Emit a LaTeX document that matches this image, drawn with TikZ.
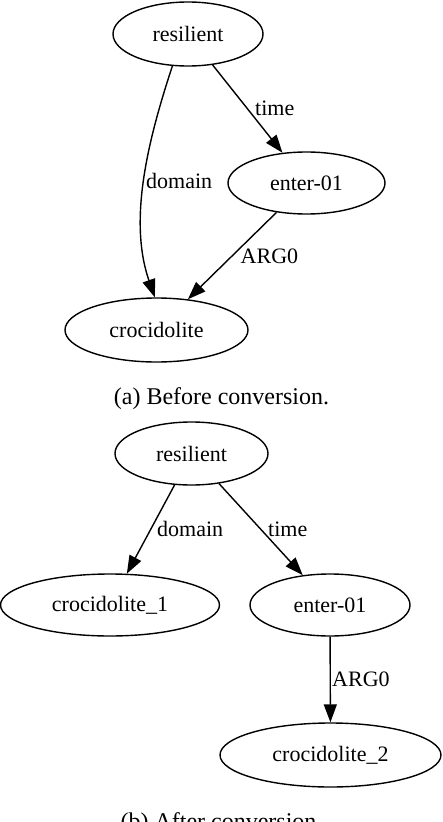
\documentclass[tikz,border=0pt]{standalone}
\usepackage{fontspec}
\setmainfont{Liberation Serif}
\usetikzlibrary{shapes.geometric,arrows.meta}
\tikzset{
  amr/.style={draw, ellipse, line width=1.4pt, inner sep=0pt, font=\fontsize{22}{26}\selectfont},
  lbl/.style={inner sep=0pt, anchor=base west, font=\fontsize{22}{26}\selectfont},
  captext/.style={inner sep=0pt, anchor=base, font=\fontsize{24}{28}\selectfont},
  amredge/.style={line width=1.4pt, -{Triangle[length=18pt,width=13pt]}}
}
\begin{document}
\begin{tikzpicture}[x=1pt,y=-1pt]
\useasboundingbox (0,0) rectangle (442,822);
% (a) before
\node[amr, minimum width=150pt, minimum height=64pt] (r1) at (188,34) {resilient};
\node[amr, minimum width=157pt, minimum height=62pt] (e1) at (306.5,183) {enter-01};
\node[amr, minimum width=183pt, minimum height=64pt] (c1) at (156.5,330) {crocidolite};
\draw[amredge] (r1.244) .. controls (148,140) and (128,220) .. (c1.93);
\draw[amredge] (r1) -- (e1);
\draw[amredge] (e1) -- (c1);
\node[lbl] (l1) at (255,115) {time};
\node[lbl] (l2) at (146,188) {domain};
\node[lbl] (l3) at (240.5,263) {ARG0};
\node[captext] (ca) at (221.5,404) {(a) Before conversion.};
% (b) after
\node[amr, minimum width=153pt, minimum height=63pt] (r2) at (191.5,453.5) {resilient};
\node[amr, minimum width=219pt, minimum height=62pt] (c2) at (110,605) {crocidolite\_1};
\node[amr, minimum width=160pt, minimum height=62pt] (e2) at (330,605) {enter-01};
\node[amr, minimum width=221pt, minimum height=64pt] (c3) at (330.5,755) {crocidolite\_2};
\draw[amredge] (r2) -- (c2);
\draw[amredge] (r2) -- (e2);
\draw[amredge] (e2) -- (c3);
\node[lbl] (l4) at (157,536) {domain};
\node[lbl] (l5) at (268,536) {time};
\node[lbl] (l6) at (332,686.5) {ARG0};
\node[captext] (cb) at (221.5,829) {(b) After conversion.};
\end{tikzpicture}
\end{document}
